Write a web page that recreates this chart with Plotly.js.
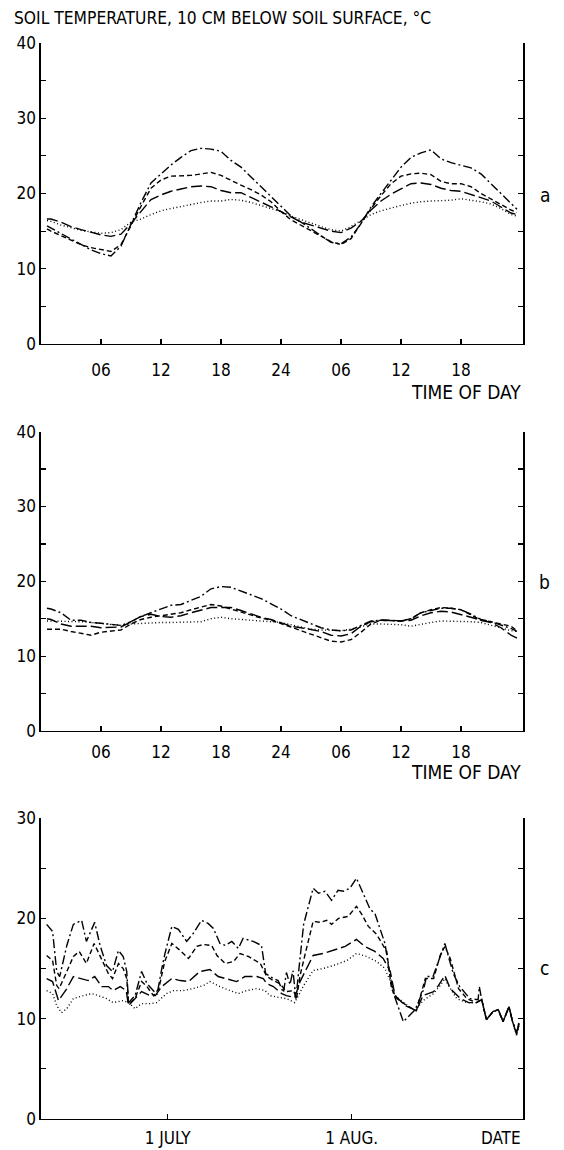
<!DOCTYPE html>
<html>
<head>
<meta charset="utf-8">
<script src="https://cdn.plot.ly/plotly-3.0.1.min.js"></script>
<style>html,body{margin:0;padding:0;background:#fff;}#chart{width:564px;height:1150px;}</style>
</head>
<body>
<div id="chart"></div>
<script>
// ---------- Panels a and b: hourly values over two days ----------
const hours = [0.6,1,2,3,4,5,6,7,8,9,10,11,12,13,14,15,16,17,18,19,20,21,22,23,24,25,26,27,28,29,30,31,32,33,34,35,36,37,38,39,40,41,42,43,44,45,46,47,47.6];
const hourTickVals = [6,12,18,24,30,36,42];
const hourTickText = ['06','12','18','24','06','12','18'];

// panel a
const aDashDot  = [15.7,15.4,14.7,13.9,13.2,12.5,12.0,11.7,13.0,16.0,18.8,21.4,22.6,23.8,24.8,25.7,26.0,25.9,25.6,24.4,23.5,22.2,20.9,19.6,18.2,17.0,16.2,15.3,14.5,13.5,13.3,14.2,16.0,18.2,20.0,21.7,23.5,24.8,25.4,25.8,24.6,24.1,23.8,23.4,22.6,21.3,20.0,18.6,17.9];
const aShortDash= [15.3,15.0,14.4,13.8,13.2,12.8,12.5,12.3,13.2,15.8,18.3,20.7,21.8,22.3,22.3,22.4,22.6,22.8,22.4,21.7,21.1,20.5,19.8,18.9,17.6,16.5,15.8,15.0,14.3,13.6,13.2,14.0,16.0,18.0,19.7,21.3,22.3,22.6,22.7,22.5,21.6,21.3,21.3,20.9,20.0,19.3,18.6,17.8,17.5];
const aLongDash = [16.6,16.6,16.2,15.6,15.2,14.8,14.5,14.3,14.6,16.0,17.6,19.2,19.8,20.3,20.6,20.9,21.0,20.9,20.4,20.1,20.1,19.5,18.8,18.2,17.6,16.9,16.2,15.8,15.4,15.0,14.8,15.4,16.3,17.8,19.0,19.9,20.6,21.3,21.4,21.2,20.7,20.4,20.3,19.9,19.5,19.0,18.2,17.4,17.2];
const aDotted   = [16.4,16.3,15.8,15.4,15.1,14.9,14.7,14.8,15.2,16.2,16.6,17.2,17.7,18.0,18.3,18.6,18.8,19.0,19.0,19.2,19.1,18.8,18.4,18.1,17.6,17.0,16.5,16.0,15.6,15.2,15.0,15.6,16.4,17.2,17.7,18.1,18.4,18.7,18.9,19.0,19.0,19.1,19.3,19.1,18.9,18.6,18.0,17.2,17.0];

// panel b
const bDashDot  = [16.4,16.3,15.8,14.8,14.8,14.5,14.4,14.3,14.1,14.6,15.3,15.8,16.3,16.8,16.9,17.5,18.0,19.0,19.3,19.2,18.7,18.2,17.7,17.0,16.3,15.4,14.9,14.3,13.8,13.5,13.4,13.5,14.1,14.7,14.8,14.8,14.7,15.0,15.8,16.1,16.4,16.4,16.2,15.6,14.9,14.6,14.2,13.7,13.3];
const bShortDash= [13.6,13.6,13.6,13.3,13.0,12.8,13.2,13.3,13.5,14.3,14.9,15.2,15.4,15.6,15.8,16.2,16.6,16.9,16.7,16.3,15.8,15.4,15.1,14.8,14.4,13.9,13.4,12.9,12.5,12.0,11.9,12.2,13.2,14.3,14.8,14.8,14.7,15.0,15.8,16.2,16.5,16.4,16.2,15.5,14.8,14.6,14.3,14.0,13.4];
const bLongDash = [15.0,14.9,14.3,14.0,14.0,14.0,13.8,13.8,13.9,14.6,15.3,15.6,15.3,15.2,15.4,15.8,16.2,16.5,16.5,16.5,16.1,15.6,15.2,14.9,14.5,14.0,13.8,13.6,13.3,12.8,12.7,13.0,14.0,14.6,14.8,14.8,14.7,14.8,15.4,15.8,16.0,15.9,15.6,15.2,14.8,14.5,13.8,12.8,12.4];
const bDotted   = [14.7,14.7,14.7,14.7,14.6,14.5,14.4,14.3,14.1,14.3,14.4,14.4,14.5,14.5,14.5,14.5,14.6,15.0,15.2,15.0,14.9,14.8,14.7,14.6,14.5,14.2,13.9,13.6,13.5,13.4,13.4,13.6,14.0,14.3,14.3,14.3,14.2,14.0,14.3,14.5,14.7,14.7,14.7,14.6,14.5,14.1,13.8,13.4,13.3];

// ---------- Panel c: days relative to 1 July ----------
const dateTickVals = [0,31];
const dateTickText = ['1 JULY','1 AUG.'];

const cDashDotDays = [-20.4,-19.4,-18.7,-18.2,-17.0,-15.9,-14.5,-13.7,-12.3,-11.4,-10.3,-9.3,-8.3,-7.5,-6.9,-6.6,-5.5,-4.4,-3.5,-2.7,-1.8,-1.0,-0.5,0.7,1.8,3.2,4.3,5.7,6.8,7.7,8.8,9.7,10.8,11.9,12.7,14.4,15.8,16.5,17.8,18.6,19.5,20.0,20.6,21.1,21.6,22.2,22.9,24.5,25.4,26.5,27.6,28.7,29.6,30.7,31.8,32.4,34.1,34.9,36.6,37.2,38.0,39.7,41.7,43.1,43.6,44.7,45.9,46.7,47.3,48.1,49.2,50.9,52.3,52.5,52.9,53.7,54.8,55.7,56.5,57.5,58.1,58.8,59.2];
const cDashDot     = [19.4,18.7,14.7,14.2,17.3,19.4,19.8,17.7,19.6,17.3,15.3,14.7,16.8,16.2,14.7,11.6,12.3,14.7,13.5,13.0,12.4,15.0,16.4,19.2,18.9,17.7,18.5,19.8,19.5,19.0,17.5,17.3,17.7,17.0,18.0,17.7,17.3,14.5,14.0,13.8,12.6,14.6,13.4,14.8,12.0,15.5,19.4,23.0,22.5,22.7,21.8,22.8,22.7,23.0,24.0,23.2,20.9,20.5,17.5,15.2,12.6,9.7,10.9,12.9,14.2,14.2,16.2,17.5,16.2,14.5,13.2,12.0,11.9,13.2,11.9,9.9,10.7,10.9,9.7,11.2,9.7,8.6,9.7];

const cShortDashDays = [-20.4,-19.4,-18.7,-18.3,-17.0,-15.9,-14.9,-13.7,-12.4,-11.4,-10.0,-9.3,-8.3,-7.5,-6.9,-6.6,-5.5,-4.4,-3.5,-2.4,-1.5,-0.5,0.7,2.1,3.5,4.9,6.0,7.4,8.3,9.7,11.1,12.2,13.6,15.6,16.7,17.8,18.9,20.0,21.2,21.7,22.3,23.1,24.0,24.5,25.7,26.8,27.6,28.8,30.4,31.8,32.7,33.8,35.2,36.9,37.7,38.6,40.3,41.9,43.4,44.8,45.9,46.7,47.6,49.0,50.4,52.0,52.9,53.7,54.8,55.7,56.5,57.5,58.1,58.8,59.2];
const cShortDash     = [16.3,15.8,13.3,13.0,14.7,16.2,16.7,15.5,17.5,16.2,14.5,14.0,15.5,15.0,14.0,11.5,12.0,13.7,13.2,12.3,13.0,15.7,17.5,16.8,16.0,17.2,17.4,17.3,16.3,15.5,15.7,16.5,16.2,15.5,14.2,13.8,13.5,12.7,12.8,12.0,14.3,16.3,18.7,19.7,19.6,19.8,19.4,20.0,20.2,21.2,20.4,19.2,18.4,16.7,13.0,12.0,11.3,10.8,14.0,14.0,16.3,17.2,16.0,13.0,12.0,11.6,11.9,9.9,10.7,10.9,9.7,11.2,9.7,8.6,9.7];

const cLongDashDays = [-20.4,-19.4,-18.4,-17.0,-15.9,-14.5,-13.4,-12.3,-11.1,-10.0,-9.2,-8.0,-7.0,-6.6,-5.5,-4.4,-3.0,-2.1,-1.0,0.7,2.1,3.5,5.4,7.1,8.5,9.9,11.6,13.0,15.0,16.1,16.7,17.8,19.2,20.0,21.4,22.3,23.4,24.5,26.2,27.3,28.5,29.9,31.8,33.2,34.9,36.3,37.5,38.3,40.0,41.9,43.0,44.8,45.6,46.7,47.6,49.3,50.7,52.0,52.9,53.7,54.8,55.7,56.5,57.5,58.1,58.8,59.2];
const cLongDash     = [14.0,13.7,11.8,13.0,14.2,14.0,13.8,14.2,13.2,13.2,12.8,13.2,12.8,11.3,12.0,12.7,12.3,12.3,13.2,14.0,13.8,13.7,14.7,14.9,14.2,14.0,13.7,14.2,14.2,14.0,13.5,13.2,12.5,12.3,12.1,13.7,15.0,16.3,16.5,16.7,16.9,17.2,17.9,17.2,16.7,16.0,14.7,12.3,11.3,10.8,12.3,12.7,13.3,14.3,13.0,12.0,11.6,11.6,11.9,9.9,10.7,10.9,9.7,11.2,9.7,8.4,9.5];

const cDottedDays = [-20.4,-19.4,-18.7,-17.9,-17.0,-15.9,-14.2,-12.8,-11.7,-10.3,-9.2,-7.5,-6.6,-5.5,-4.4,-3.0,-1.9,-0.2,1.0,2.6,4.3,6.0,7.1,8.8,10.5,11.9,13.3,15.0,16.4,17.2,18.9,20.0,21.4,22.9,24.5,26.2,27.9,30.2,31.8,33.5,35.2,36.6,37.5,38.3,40.0,41.7,43.0,44.8,45.9,46.7,47.3,48.7,50.4,52.0,52.9,53.7,54.8,55.7,56.5,57.5,58.1,58.8,59.2];
const cDotted     = [12.8,12.5,11.3,10.6,11.0,12.0,12.3,12.5,12.3,12.0,11.6,11.8,11.6,11.0,11.5,11.5,11.6,12.5,12.8,12.8,13.0,13.3,13.7,13.2,12.8,12.5,12.8,13.0,12.8,12.3,12.1,12.0,11.6,13.3,14.8,15.0,15.3,15.8,16.5,16.2,15.7,15.0,13.7,12.3,11.5,10.8,11.8,12.5,13.3,14.0,13.3,12.0,11.6,11.6,11.9,9.9,10.7,10.9,9.7,11.2,9.7,8.3,9.4];

const yTickVals40 = [0,5,10,15,20,25,30,35,40];
const yTickText40 = ['0','','10','','20','','30','','40'];
const yTickVals30 = [0,5,10,15,20,25,30];
const yTickText30 = ['0','','10','','20','','30'];

// ---------- styles ----------
const FONT = '"DejaVu Sans Condensed", "Liberation Sans Narrow", sans-serif';
const DASH = {
  dashdot: '9px,3px,2px,3px',
  shortdash: '5px,3px',
  longdash: '11px,4px',
  dotted: '1px,2.5px'
};
function line(x, y, dash, xa, ya) {
  return {x: x, y: y, type: 'scatter', mode: 'lines', xaxis: xa, yaxis: ya,
          line: {color: '#000', width: 1.4, dash: dash}, hoverinfo: 'skip'};
}

const traces = [
  line(hours, aDotted, DASH.dotted, 'x', 'y'),
  line(hours, aLongDash, DASH.longdash, 'x', 'y'),
  line(hours, aShortDash, DASH.shortdash, 'x', 'y'),
  line(hours, aDashDot, DASH.dashdot, 'x', 'y'),
  line(hours, bDotted, DASH.dotted, 'x2', 'y2'),
  line(hours, bLongDash, DASH.longdash, 'x2', 'y2'),
  line(hours, bShortDash, DASH.shortdash, 'x2', 'y2'),
  line(hours, bDashDot, DASH.dashdot, 'x2', 'y2'),
  line(cDottedDays, cDotted, DASH.dotted, 'x3', 'y3'),
  line(cLongDashDays, cLongDash, DASH.longdash, 'x3', 'y3'),
  line(cShortDashDays, cShortDash, DASH.shortdash, 'x3', 'y3'),
  line(cDashDotDays, cDashDot, DASH.dashdot, 'x3', 'y3')
];

function yax(domain, range, tv, tt, anchor) {
  return {domain: domain, range: range, tickmode: 'array', tickvals: tv, ticktext: tt,
          ticks: 'inside', ticklen: 5, tickwidth: 1.2, tickcolor: '#000',
          showline: true, linecolor: '#000', linewidth: 1.6, mirror: 'ticks',
          showgrid: false, zeroline: false, anchor: anchor, fixedrange: true,
          tickfont: {family: FONT, size: 17, color: '#000'}};
}
function xax(range, tv, tt, anchor, size, standoff) {
  return {domain: [0, 1], range: range, tickmode: 'array', tickvals: tv, ticktext: tt,
          ticks: 'inside', ticklen: 5, tickwidth: 1.2, tickcolor: '#000',
          showline: true, linecolor: '#000', linewidth: 1.2, mirror: false,
          showgrid: false, zeroline: false, anchor: anchor, fixedrange: true,
          ticklabelstandoff: standoff,
          tickfont: {family: FONT, size: size, color: '#000'}};
}

function ann(text, x, y, xanchor, size) {
  return {text: text, xref: 'paper', yref: 'paper', x: x, y: y, xanchor: xanchor, yanchor: 'middle',
          showarrow: false, font: {family: FONT, size: size, color: '#000'}};
}

const layout = {
  width: 564, height: 1150,
  margin: {l: 41, r: 41, t: 43, b: 31},
  paper_bgcolor: '#fff', plot_bgcolor: '#fff',
  showlegend: false,
  title: {text: 'SOIL TEMPERATURE, 10 CM BELOW SOIL SURFACE, °C', xref: 'container', yref: 'container',
          x: 14/564, xanchor: 'left', y: 1 - 18/1150, yanchor: 'middle',
          font: {family: FONT, size: 17.3, color: '#000'}},
  xaxis:  xax([0, 48.2], hourTickVals, hourTickText, 'y', 17, 10),
  yaxis:  yax([0.7203, 1.0], [0, 40], yTickVals40, yTickText40, 'x'),
  xaxis2: xax([0, 48.2], hourTickVals, hourTickText, 'y2', 17, 5),
  yaxis2: yax([0.3606, 0.6388], [0, 40], yTickVals40, yTickText40, 'x2'),
  xaxis3: xax([-21.35, 59.86], dateTickVals, dateTickText, 'y3', 17, 3),
  yaxis3: yax([0, 0.2797], [0, 30], yTickVals30, yTickText30, 'x3'),
  annotations: [
    ann('TIME OF DAY', 1.0, 0.6757, 'right', 19),
    ann('TIME OF DAY', 1.0, 0.3225, 'right', 19),
    ann('DATE', 1.0, -0.0176, 'right', 17),
    ann('a', 1.0456, 0.8587, 'center', 19),
    ann('b', 1.0456, 0.4991, 'center', 19),
    ann('c', 1.0456, 0.1403, 'center', 19)
  ]
};

Plotly.newPlot('chart', traces, layout, {displayModeBar: false, staticPlot: true});
</script>
</body>
</html>
